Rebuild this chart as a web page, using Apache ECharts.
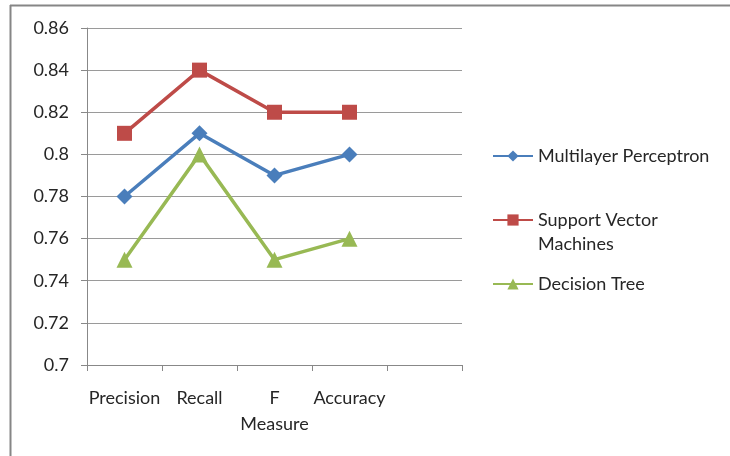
<!DOCTYPE html>
<html>
<head>
<meta charset="utf-8">
<script src="https://cdn.jsdelivr.net/npm/echarts@6/dist/echarts.min.js"></script>
<style>
  html, body { margin: 0; padding: 0; background: #fff; }
  #chart { width: 730px; height: 456px; }
</style>
</head>
<body>
<div id="chart"></div>
<script>
// Classifier scores per evaluation metric
const categories = ['Precision', 'Recall', 'F Measure', 'Accuracy', ''];
const seriesNames = ['Multilayer Perceptron', 'Support Vector Machines', 'Decision Tree'];
const mlpValues = [0.78, 0.81, 0.79, 0.80];
const svmValues = [0.81, 0.84, 0.82, 0.82];
const dtValues = [0.75, 0.80, 0.75, 0.76];
const yMin = 0.7, yMax = 0.86, yStep = 0.02;

const FONT = 'Lato';
const TEXT = '#262626';
const FS = 18;
const LEGEND_LH = 24;

const chart = echarts.init(document.getElementById('chart'), null, { renderer: 'canvas' });

function line(name, data, color, symbol, size) {
  return {
    name, type: 'line', data,
    symbol, symbolSize: size,
    lineStyle: { color, width: 3.5 },
    itemStyle: { color },
    animation: false
  };
}

chart.setOption({
  backgroundColor: '#fff',
  textStyle: { fontFamily: FONT },
  grid: { left: 87, right: 268, top: 28, bottom: 91 },
  xAxis: {
    type: 'category',
    data: categories,
    boundaryGap: true,
    axisLine: { lineStyle: { color: '#888', width: 1 } },
    axisTick: { show: true, length: 6, inside: false, lineStyle: { color: '#888' } },
    axisLabel: {
      interval: 0, color: TEXT, fontSize: FS, fontFamily: FONT,
      lineHeight: 26, margin: 20,
      formatter: v => v.replace(' ', '\n')
    },
    splitLine: { show: false }
  },
  yAxis: {
    type: 'value',
    min: yMin, max: yMax, interval: yStep,
    axisLine: { show: true, lineStyle: { color: '#888', width: 1 } },
    axisTick: { show: true, length: 6, lineStyle: { color: '#888' } },
    axisLabel: {
      color: TEXT, fontSize: FS, fontFamily: FONT, margin: 18,
      formatter: v => String(+v.toFixed(2))
    },
    splitLine: { show: true, lineStyle: { color: '#9a9a9a', width: 1 } }
  },
  legend: {
    orient: 'vertical',
    left: 492, top: 144,
    padding: 0,
    itemWidth: 40, itemHeight: 14, itemGap: 19,
    data: seriesNames,
    // the two-line entry keeps its first line level with its marker
    formatter: n => n === 'Support Vector Machines'
      ? '{two|Support Vector\nMachines}' : n,
    textStyle: {
      color: TEXT, fontSize: FS, fontFamily: FONT, lineHeight: LEGEND_LH,
      rich: {
        two: {
          color: TEXT, fontSize: FS, fontFamily: FONT, lineHeight: LEGEND_LH,
          padding: [LEGEND_LH, 0, 0, 0]
        }
      }
    }
  },
  graphic: [
    { type: 'line', shape: { x1: 10, y1: 5.5, x2: 730, y2: 5.5 }, style: { stroke: '#868686', lineWidth: 2 } },
    { type: 'line', shape: { x1: 10.5, y1: 5, x2: 10.5, y2: 456 }, style: { stroke: '#868686', lineWidth: 2 } }
  ],
  series: [
    line(seriesNames[0], mlpValues, '#4A7EBB', 'diamond', 16),
    line(seriesNames[1], svmValues, '#BE4B48', 'rect', 15),
    line(seriesNames[2], dtValues, '#98B954', 'triangle', 16)
  ]
});
</script>
</body>
</html>
